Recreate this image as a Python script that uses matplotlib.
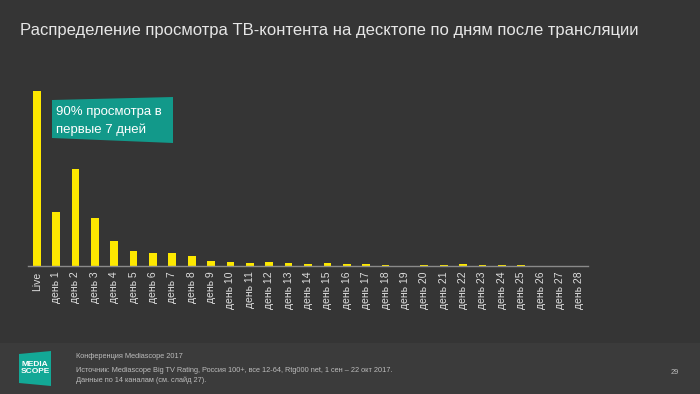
import matplotlib.pyplot as plt
from matplotlib.patches import Polygon, Rectangle

plt.rcParams['font.family'] = ['Liberation Sans', 'DejaVu Sans']

categories = ['Live'] + ['день ' + str(i) for i in range(1, 29)]
values = [175, 54, 97, 48.5, 25.5, 15, 13, 13.5, 10.5, 5.5, 4, 3.3, 4, 3, 2,
          3.5, 2, 2, 1.5, 0.5, 1, 1.5, 2, 1, 1.5, 1, 0.5, 0.5, 0.2]

bg = '#353535'
fig = plt.figure(figsize=(7, 3.94), dpi=100)
fig.patch.set_facecolor(bg)

# нижняя полоса
fig.patches.append(Rectangle((0, 0), 1, 51 / 394, transform=fig.transFigure,
                             facecolor='#3b3b3b', edgecolor='none', zorder=0))

ax = fig.add_axes([28 / 700, 1 - 266 / 394, 560 / 700, 181 / 394])
ax.set_facecolor(bg)
x = range(len(categories))
ax.bar(x, values, width=0.4, color='#fde800')
ax.set_xlim(-0.45, len(categories) - 0.55)
ax.set_ylim(0, 181)
ax.set_xticks(list(x))
ax.set_xticklabels(categories, rotation=90, fontsize=7.5, color='#dddddd')
ax.tick_params(axis='x', length=0, pad=4)
ax.set_yticks([])
for s in ['top', 'right', 'left']:
    ax.spines[s].set_visible(False)
ax.spines['bottom'].set_color('#8a8a8a')
ax.spines['bottom'].set_linewidth(1)

fig.text(20 / 700, 1 - 30 / 394,
         'Распределение просмотра ТВ-контента на десктопе по дням после трансляции',
         fontsize=12, color='#e6e6e6', va='center', ha='left')

# плашка с выноской
box = Polygon([(52 / 700, 1 - 100 / 394), (173 / 700, 1 - 97 / 394),
               (173 / 700, 1 - 143 / 394), (52 / 700, 1 - 138 / 394)],
              closed=True, transform=fig.transFigure, facecolor='#12998a',
              edgecolor='none', zorder=5)
fig.patches.append(box)
fig.text(56 / 700, 1 - 121 / 394, '90% просмотра в\nпервые 7 дней',
         fontsize=9.5, color='white', va='center', ha='left', zorder=6,
         linespacing=1.5)

# логотип
logo = Polygon([(19 / 700, 1 - 354 / 394), (51 / 700, 1 - 351 / 394),
                (51 / 700, 1 - 386 / 394), (19 / 700, 1 - 383 / 394)],
               closed=True, transform=fig.transFigure, facecolor='#13a896',
               edgecolor='none')
fig.patches.append(logo)
fig.text(35 / 700, 1 - 368 / 394, 'MEDIA\nSCOPE', fontsize=6, color='white',
         ha='center', va='center', fontweight='bold', linespacing=0.95)

fig.text(76 / 700, 1 - 356 / 394, 'Конференция Mediascope 2017',
         fontsize=5.3, color='#bbbbbb', va='center')
fig.text(76 / 700, 1 - 370.5 / 394,
         'Источник: Mediascope Big TV Rating, Россия 100+, все 12-64, Rtg000 net, 1 сен – 22 окт 2017.',
         fontsize=5.3, color='#bbbbbb', va='center')
fig.text(76 / 700, 1 - 380 / 394, 'Данные по 14 каналам (см. слайд 27).',
         fontsize=5.3, color='#bbbbbb', va='center')
fig.text(675 / 700, 1 - 373 / 394, '29', fontsize=5.3, color='#bbbbbb',
         va='center', ha='center')

fig.savefig('out.png', dpi=100, facecolor=bg)
